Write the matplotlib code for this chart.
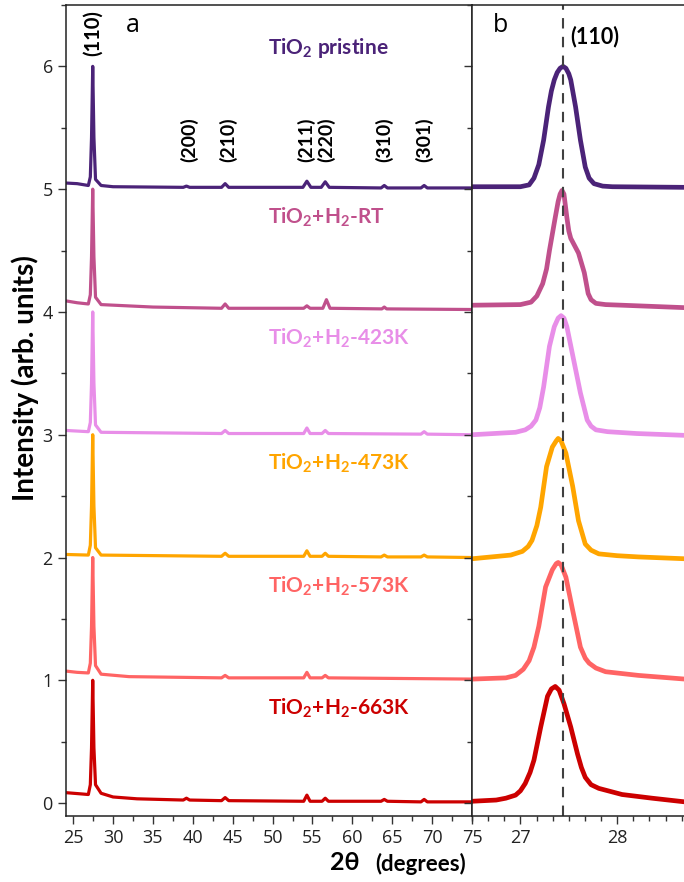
import numpy as np
import matplotlib
matplotlib.use("Agg")
import matplotlib.pyplot as plt
from matplotlib.ticker import MultipleLocator, AutoMinorLocator

# ---- data ---------------------------------------------------------------
labels = [r"TiO$_\mathbf{2}$ pristine", r"TiO$_\mathbf{2}$+H$_\mathbf{2}$-RT",
          r"TiO$_\mathbf{2}$+H$_\mathbf{2}$-423K", r"TiO$_\mathbf{2}$+H$_\mathbf{2}$-473K",
          r"TiO$_\mathbf{2}$+H$_\mathbf{2}$-573K", r"TiO$_\mathbf{2}$+H$_\mathbf{2}$-663K"]
colors = ["#4B2378", "#C0508C", "#E88EE8", "#FFA500", "#FF6464", "#CC0000"]

hkl = ["(200)", "(210)", "(211)", "(220)", "(310)", "(301)"]
hkl_pos = [39.6, 44.4, 54.2, 56.7, 64.0, 69.0]
peak110 = 27.44

# panel a: full patterns (2theta, intensity)
full_pristine = [(24.1, 5.05), (25.5, 5.045), (26.9, 5.03), (27.15, 5.1), (27.3, 5.42), (27.45, 6.0),
                 (27.6, 5.42), (27.8, 5.08), (28.5, 5.03), (30, 5.02), (38.8, 5.015), (39.2, 5.025),
                 (39.6, 5.015), (43.6, 5.015), (44.05, 5.045), (44.5, 5.015), (53.8, 5.015), (54.3, 5.065),
                 (54.8, 5.015), (56.1, 5.015), (56.6, 5.06), (57.1, 5.015), (63.6, 5.01), (64.0, 5.03),
                 (64.4, 5.01), (68.6, 5.01), (69.0, 5.03), (69.4, 5.01), (75, 5.01)]
full_rt = [(24.1, 4.09), (25.5, 4.075), (26.9, 4.065), (27.15, 4.14), (27.3, 4.45), (27.45, 5.0),
           (27.6, 4.45), (27.8, 4.12), (28.5, 4.06), (35, 4.04), (43.6, 4.03), (44.05, 4.065),
           (44.5, 4.03), (53.9, 4.03), (54.3, 4.05), (54.7, 4.03), (56.3, 4.03), (56.75, 4.1),
           (57.2, 4.03), (63.7, 4.025), (64.0, 4.04), (64.3, 4.025), (75, 4.02)]
full_423 = [(24.1, 3.035), (26.9, 3.025), (27.15, 3.1), (27.3, 3.42), (27.45, 4.0), (27.6, 3.42),
            (27.8, 3.08), (28.5, 3.02), (43.6, 3.01), (44.05, 3.035), (44.5, 3.01), (53.9, 3.01),
            (54.3, 3.055), (54.7, 3.01), (56.2, 3.01), (56.6, 3.035), (57.0, 3.01), (68.6, 3.005),
            (69.0, 3.025), (69.4, 3.005), (75, 3.0)]
full_473 = [(24.1, 2.025), (26.9, 2.02), (27.15, 2.1), (27.3, 2.42), (27.45, 3.0), (27.6, 2.42),
            (27.8, 2.08), (28.5, 2.02), (43.6, 2.01), (44.05, 2.035), (44.5, 2.01), (53.9, 2.01),
            (54.3, 2.055), (54.7, 2.01), (56.2, 2.01), (56.6, 2.035), (57.0, 2.01), (63.6, 2.005),
            (64.0, 2.02), (64.4, 2.005), (68.6, 2.005), (69.0, 2.02), (69.4, 2.005), (75, 2.0)]
full_573 = [(24.1, 1.075), (25.5, 1.065), (26.9, 1.06), (27.15, 1.14), (27.3, 1.44), (27.45, 2.0),
            (27.6, 1.44), (27.8, 1.12), (28.5, 1.05), (32, 1.03), (43.6, 1.02), (44.05, 1.04),
            (44.5, 1.02), (53.9, 1.02), (54.3, 1.065), (54.7, 1.02), (56.2, 1.02), (56.6, 1.04),
            (57.0, 1.02), (75, 1.01)]
full_663 = [(24.1, 0.085), (26.0, 0.075), (26.9, 0.07), (27.15, 0.15), (27.3, 0.45), (27.45, 1.0),
            (27.6, 0.45), (27.8, 0.15), (28.5, 0.08), (30, 0.05), (33, 0.035), (38.8, 0.025),
            (39.2, 0.04), (39.6, 0.025), (43.6, 0.02), (44.05, 0.045), (44.5, 0.02), (53.9, 0.015),
            (54.3, 0.065), (54.7, 0.015), (56.2, 0.015), (56.6, 0.04), (57.0, 0.015), (63.6, 0.015),
            (64.0, 0.03), (64.4, 0.015), (68.6, 0.01), (69.0, 0.03), (69.4, 0.01), (75, 0.01)]

# panel b: (110) reflection, zoomed
zoom_pristine = [(26.5, 5.02), (27.0, 5.02), (27.09, 5.035), (27.14, 5.09), (27.19, 5.2), (27.24, 5.4),
                 (27.29, 5.67), (27.32, 5.8), (27.35, 5.89), (27.38, 5.95), (27.41, 5.985), (27.44, 6.0),
                 (27.47, 5.985), (27.50, 5.94), (27.52, 5.89), (27.57, 5.67), (27.62, 5.4), (27.67, 5.18),
                 (27.71, 5.09), (27.76, 5.045), (27.85, 5.025), (27.95, 5.02), (28.7, 5.015)]
zoom_rt = [(26.5, 4.055), (27.0, 4.06), (27.11, 4.08), (27.17, 4.13), (27.23, 4.23), (27.27, 4.35),
           (27.30, 4.5), (27.36, 4.77), (27.39, 4.9), (27.41, 4.96), (27.43, 4.99), (27.45, 4.96),
           (27.48, 4.77), (27.50, 4.66), (27.52, 4.6), (27.56, 4.54), (27.60, 4.48), (27.66, 4.32),
           (27.70, 4.15), (27.73, 4.1), (27.78, 4.07), (27.88, 4.06), (28.05, 4.055), (28.7, 4.035)]
zoom_423 = [(26.5, 3.0), (26.95, 3.02), (27.05, 3.04), (27.11, 3.07), (27.16, 3.12), (27.2, 3.22),
            (27.24, 3.39), (27.30, 3.72), (27.35, 3.88), (27.39, 3.95), (27.42, 3.97), (27.45, 3.95),
            (27.48, 3.88), (27.55, 3.61), (27.62, 3.34), (27.69, 3.12), (27.73, 3.07), (27.78, 3.04),
            (27.9, 3.025), (28.2, 3.01), (28.7, 2.995)]
zoom_473 = [(26.5, 1.99), (26.9, 2.02), (27.02, 2.05), (27.08, 2.09), (27.12, 2.14), (27.17, 2.26),
            (27.21, 2.41), (27.27, 2.74), (27.33, 2.9), (27.37, 2.95), (27.39, 2.97), (27.42, 2.95),
            (27.47, 2.85), (27.54, 2.58), (27.60, 2.3), (27.67, 2.11), (27.73, 2.06), (27.81, 2.03),
            (28.0, 2.015), (28.22, 2.005), (28.7, 1.99)]
zoom_573 = [(26.5, 1.01), (26.85, 1.02), (26.95, 1.04), (27.03, 1.09), (27.09, 1.16), (27.14, 1.27),
            (27.19, 1.44), (27.26, 1.76), (27.33, 1.9), (27.37, 1.95), (27.39, 1.96), (27.42, 1.94),
            (27.47, 1.84), (27.54, 1.57), (27.62, 1.27), (27.67, 1.18), (27.71, 1.14), (27.78, 1.1),
            (27.88, 1.07), (28.22, 1.04), (28.7, 1.01)]
zoom_663 = [(26.5, 0.015), (26.75, 0.025), (26.85, 0.04), (26.95, 0.065), (27.0, 0.1), (27.05, 0.16),
            (27.1, 0.25), (27.14, 0.35), (27.21, 0.62), (27.28, 0.87), (27.32, 0.93), (27.36, 0.95),
            (27.40, 0.92), (27.45, 0.81), (27.52, 0.62), (27.59, 0.4), (27.63, 0.29), (27.67, 0.21),
            (27.73, 0.15), (27.81, 0.12), (28.05, 0.07), (28.36, 0.04), (28.7, 0.01)]

full_sets = [full_pristine, full_rt, full_423, full_473, full_573, full_663]
zoom_sets = [zoom_pristine, zoom_rt, zoom_423, zoom_473, zoom_573, zoom_663]

# ---- style ---------------------------------------------------------------
plt.rcParams['font.family'] = ['Open Sans', 'DejaVu Sans']
plt.rcParams['mathtext.fontset'] = 'custom'
plt.rcParams['mathtext.rm'] = 'Lato'
plt.rcParams['mathtext.bf'] = 'Lato:bold'
bold = dict(family=['Lato', 'DejaVu Sans'], weight='bold')

fig = plt.figure(figsize=(6.84, 8.82), dpi=100)
ax1 = fig.add_axes([66 / 684, 66 / 882, 406 / 684, 811 / 882])
ax2 = fig.add_axes([472 / 684, 66 / 882, 212 / 684, 811 / 882], sharey=ax1)

for pts, c in zip(full_sets, colors):
    d = np.array(pts)
    ax1.plot(d[:, 0], d[:, 1], color=c, lw=2.3, solid_joinstyle='round')
for pts, c in zip(zoom_sets, colors):
    d = np.array(pts)
    ax2.plot(d[:, 0], d[:, 1], color=c, lw=3.4, solid_joinstyle='round')

ax1.set_xlim(24.1, 75)
ax2.set_xlim(26.5, 28.69)
ax1.set_ylim(-0.105, 6.5)

ax1.xaxis.set_major_locator(MultipleLocator(5))
ax1.xaxis.set_minor_locator(MultipleLocator(2.5))
ax1.yaxis.set_major_locator(MultipleLocator(1))
ax1.yaxis.set_minor_locator(MultipleLocator(0.5))
ax2.xaxis.set_major_locator(MultipleLocator(1))
ax2.xaxis.set_minor_locator(AutoMinorLocator(6))

for ax in (ax1, ax2):
    ax.tick_params(which='major', direction='out', length=6, width=1, labelsize=13,
                   color='#333333', labelcolor='#222222')
    ax.tick_params(which='minor', direction='out', length=3.5, width=1, color='#333333')
    for s in ax.spines.values():
        s.set_color('#222222')
        s.set_linewidth(1.1)
ax2.tick_params(axis='y', which='both', labelleft=False)
ax2.spines['right'].set_visible(False)

ax2.axvline(peak110, color='#404040', lw=1.5, ls=(0, (5, 4)))

# annotations
ax1.text(27.45, 6.27, "(110)", rotation=90, ha='center', va='center', fontsize=14.5, **bold)
for name, x in zip(hkl, hkl_pos):
    ax1.text(x, 5.40, name, rotation=90, ha='center', va='center', fontsize=14, **bold)
ax1.text(32.5, 6.33, "a", fontsize=18, ha='center', va='center')
ax2.text(26.79, 6.33, "b", fontsize=18, ha='center', va='center')
ax2.text(27.52, 6.24, "(110)", fontsize=15.5, ha='left', va='center', **bold)

label_y = [6.15, 4.77, 3.79, 2.77, 1.77, 0.77]
for t, c, y in zip(labels, colors, label_y):
    ax1.text(49.4, y, t, color=c, fontsize=15, ha='left', va='center', **bold)

fig.text(25 / 684, 1 - 378 / 882, "Intensity (arb. units)", rotation=90, ha='center', va='center',
         fontsize=20, **bold)
fig.text(345 / 684, 1 - 863 / 882, "2\u03b8", ha='center', va='center', fontsize=18, **bold)
fig.text(375 / 684, 1 - 864 / 882, "(degrees)", ha='left', va='center', fontsize=16, **bold)

fig.savefig("out.png", dpi=100)
